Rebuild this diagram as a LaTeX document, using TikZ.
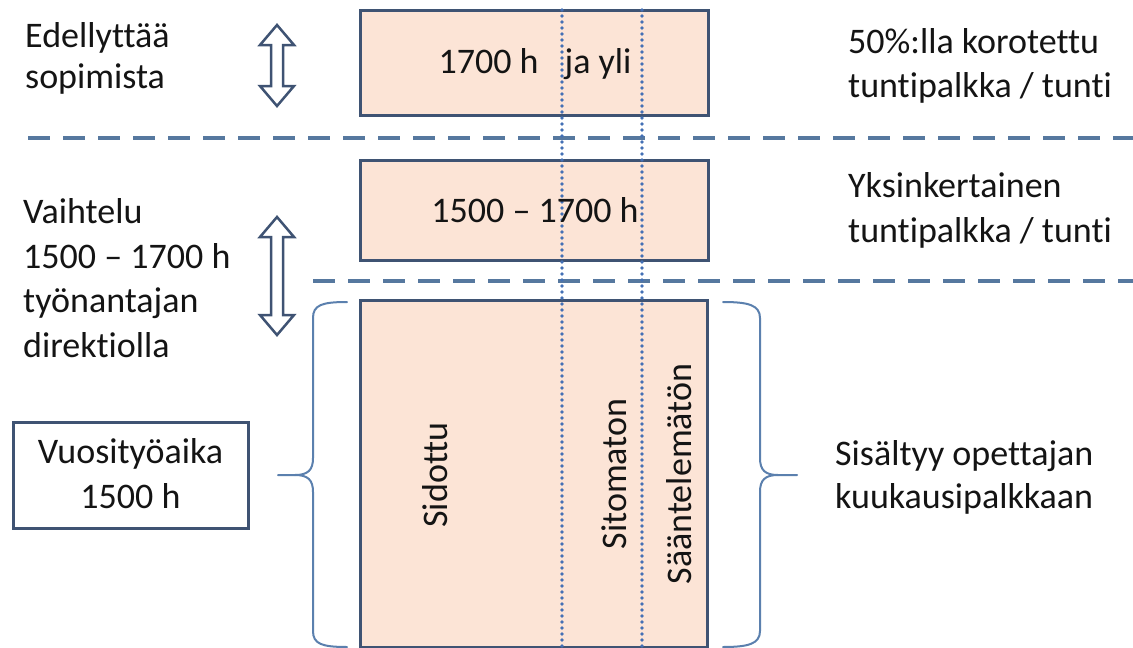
\documentclass[tikz,border=0pt]{standalone}
\usepackage{fontspec}
\setmainfont{Carlito}[Ligatures=NoCommon]
\definecolor{peach}{HTML}{FCE4D6}
\definecolor{boxline}{HTML}{3F5373}
\definecolor{sepblue}{HTML}{56789F}
\definecolor{dotblue}{HTML}{4470B5}
\definecolor{braceblue}{HTML}{5B80AE}
\definecolor{arrline}{HTML}{3F5373}
\definecolor{txtcol}{HTML}{141414}
\begin{document}
\begin{tikzpicture}[x=1pt,y=-1pt,
  txt/.style={inner sep=0pt, font=\fontsize{36pt}{44pt}\selectfont, text=txtcol},
  hbox/.style={draw=boxline, line width=3pt, fill=peach, inner sep=0pt},
  sepline/.style={draw=sepblue, line width=4pt, dash pattern=on 22pt off 13pt},
  dotv/.style={draw=dotblue, line width=3.8pt, line cap=round, dash pattern=on 0pt off 6pt},
  brc/.style={draw=braceblue, line width=2pt, line cap=round},
  darr/.style={draw=arrline, line width=2.5pt, fill=white, line join=miter}]
\useasboundingbox[fill=white] (0,0) rectangle (1133,648);

% boxes
\node (topbox) [hbox, minimum width=348pt, minimum height=105pt] at (534,62.5) {};
\node (midbox) [hbox, minimum width=348pt, minimum height=100pt] at (534,210) {};
\node (botbox) [hbox, minimum width=347pt, minimum height=347pt] at (533.5,473.5) {};
\node (vbox) [draw=boxline, line width=3pt, fill=white, minimum width=235pt, minimum height=106pt, inner sep=0pt] at (130.5,475) {};

% separators
\draw[sepline] (28,138) -- (1133,138);
\draw[sepline] (313,281) -- (1133,281);

% dotted verticals
\draw[dotv] (562,10) -- (562,647);
\draw[dotv] (642,10) -- (642,647);

% texts in boxes
\node (t1700) [txt, anchor=base] at (535,73) {1700 h \hspace{18pt}ja yli};
\node (t1517) [txt, anchor=base] at (535,222) {1500 – 1700 h};
\node (tsid) [txt, rotate=90] at (435,475) {Sidottu};
\node (tsit) [txt, rotate=90] at (614,474) {Sitomaton};
\node (tsaa) [txt, rotate=90] at (679,474) {Sääntelemätön};
\node (tv1) [txt, anchor=base] at (130.5,463) {Vuosityöaika};
\node (tv2) [txt, anchor=base] at (130.5,508) {1500 h};

% left texts
\node (e1) [txt, anchor=base west] at (25,47) {Edellyttää};
\node (e2) [txt, anchor=base west] at (25,88) {sopimista};
\node (v1) [txt, anchor=base west] at (23,223) {Vaihtelu};
\node (v2) [txt, anchor=base west] at (23,268) {1500 – 1700 h};
\node (v3) [txt, anchor=base west] at (23,312) {työnantajan};
\node (v4) [txt, anchor=base west] at (23,357) {direktiolla};

% right texts
\node (r1) [txt, anchor=base west] at (848,53) {50\%:lla korotettu};
\node (r2) [txt, anchor=base west] at (848,97) {tuntipalkka / tunti};
\node (r3) [txt, anchor=base west] at (848,197) {Yksinkertainen};
\node (r4) [txt, anchor=base west] at (848,242) {tuntipalkka / tunti};
\node (r5) [txt, anchor=base west] at (835,465) {Sisältyy opettajan};
\node (r6) [txt, anchor=base west] at (835,508) {kuukausipalkkaan};

% double arrows
\draw[darr] (277,25) -- (294,45) -- (283,45) -- (283,86) -- (294,86) -- (277,106)
  -- (260,86) -- (271,86) -- (271,45) -- (260,45) -- cycle;
\draw[darr] (277,217) -- (294,237) -- (283,237) -- (283,315) -- (294,315) -- (277,335)
  -- (260,315) -- (271,315) -- (271,237) -- (260,237) -- cycle;

% braces
\draw[brc] (347,302) .. controls (322,302) and (313,305) .. (313,318) -- (313,458)
  .. controls (313,470) and (308,475) .. (295,475) -- (278,475);
\draw[brc] (347,647) .. controls (322,647) and (313,644) .. (313,631) -- (313,492)
  .. controls (313,480) and (308,475) .. (295,475);
\draw[brc] (723,302) .. controls (748,302) and (760,305) .. (760,318) -- (760,458)
  .. controls (760,470) and (765,475) .. (778,475) -- (797,475);
\draw[brc] (723,647) .. controls (748,647) and (760,644) .. (760,631) -- (760,492)
  .. controls (760,480) and (765,475) .. (778,475);
\end{tikzpicture}
\end{document}
